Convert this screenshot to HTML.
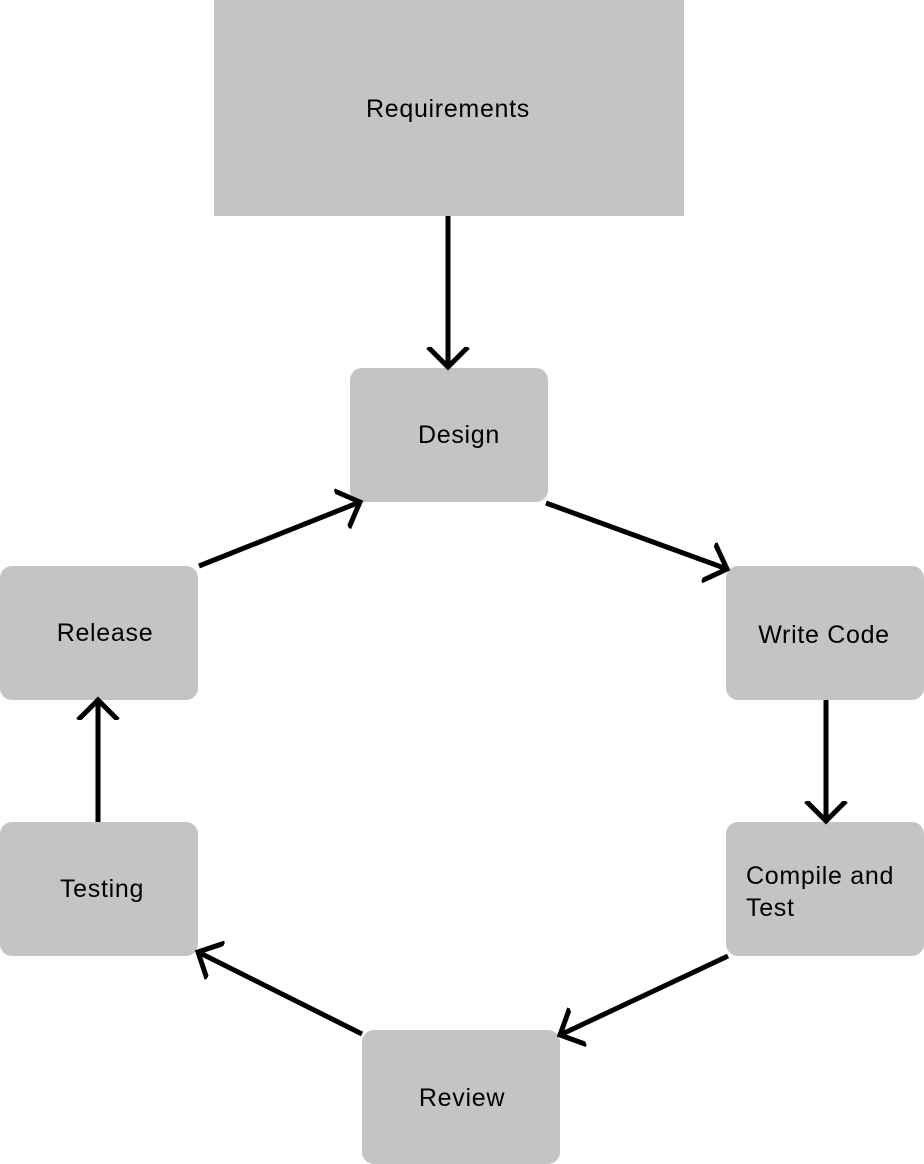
<!DOCTYPE html>
<html><head><meta charset="utf-8"><style>
html,body{margin:0;padding:0;background:#fff;}
svg{display:block;}
text{font-family:"Liberation Sans",sans-serif;font-size:25px;letter-spacing:0.7px;fill:#000;}
</style></head><body>
<svg width="924" height="1164" viewBox="0 0 924 1164" xmlns="http://www.w3.org/2000/svg">
<defs>
<marker id="a" markerUnits="userSpaceOnUse" markerWidth="30" markerHeight="44" refX="20" refY="22" orient="auto" viewBox="0 0 30 44">
<path d="M0,2 L20,22 L0,42" fill="none" stroke="#000" stroke-width="5"/>
</marker>
</defs>
<rect x="214" y="0" width="470" height="216" fill="#c4c4c4"/>
<rect x="350" y="368" width="198" height="134" rx="12" fill="#c4c4c4"/>
<rect x="726" y="566" width="198" height="134" rx="12" fill="#c4c4c4"/>
<rect x="726" y="822" width="198" height="134" rx="12" fill="#c4c4c4"/>
<rect x="362" y="1030" width="198" height="134" rx="12" fill="#c4c4c4"/>
<rect x="0" y="822" width="198" height="134" rx="12" fill="#c4c4c4"/>
<rect x="0" y="566" width="198" height="134" rx="12" fill="#c4c4c4"/>
<g stroke="#000" stroke-width="5" fill="none" marker-end="url(#a)">
<line x1="448" y1="216" x2="448" y2="367"/>
<line x1="199" y1="566" x2="360" y2="502"/>
<line x1="546" y1="503" x2="727" y2="569"/>
<line x1="826" y1="700" x2="826" y2="821"/>
<line x1="728" y1="956" x2="560" y2="1035"/>
<line x1="362" y1="1034" x2="198" y2="952"/>
<line x1="98" y1="822" x2="98" y2="700"/>
</g>
<text x="448" y="117" text-anchor="middle">Requirements</text>
<text x="459" y="443" text-anchor="middle">Design</text>
<text x="824" y="643" text-anchor="middle">Write Code</text>
<text x="746" y="884">Compile and</text>
<text x="746" y="916">Test</text>
<text x="462" y="1106" text-anchor="middle">Review</text>
<text x="102" y="897" text-anchor="middle">Testing</text>
<text x="105" y="641" text-anchor="middle">Release</text>
</svg>
</body></html>
